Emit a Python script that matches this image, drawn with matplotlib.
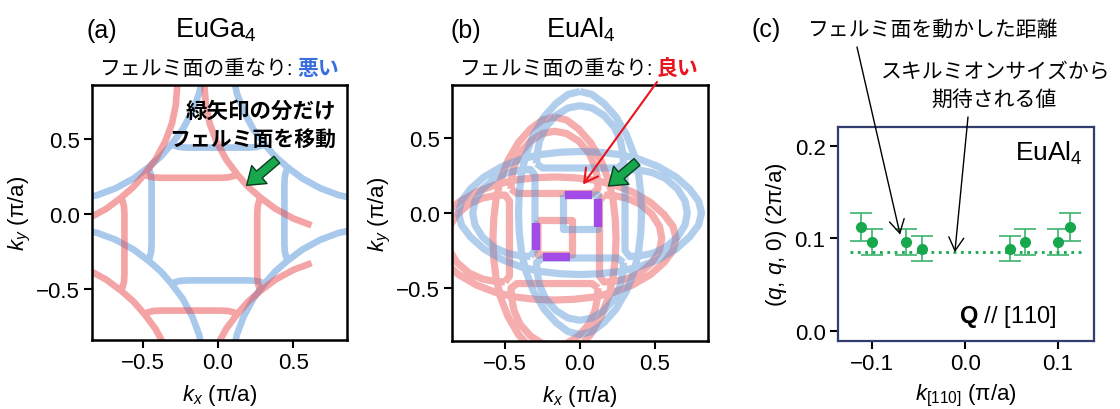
import numpy as np
import matplotlib
matplotlib.use("Agg")
import matplotlib.pyplot as plt

plt.rcParams['font.family'] = ['Liberation Sans', 'Noto Sans CJK JP']
plt.rcParams['mathtext.fontset'] = 'custom'
plt.rcParams['mathtext.rm'] = 'Liberation Sans'
plt.rcParams['mathtext.it'] = 'Liberation Sans:italic'
plt.rcParams['mathtext.bf'] = 'Liberation Sans:bold'

arc_a_x = [-1.05, -0.92, -0.80, -0.68, -0.56, -0.46, -0.38, -0.31, -0.235, -0.17, -0.125, -0.10, -0.09]
arc_a_y = [0.09, 0.10, 0.125, 0.17, 0.235, 0.31, 0.38, 0.46, 0.56, 0.68, 0.80, 0.92, 1.05]
pocket_a_x = [-0.31, -0.285, -0.25, -0.20, 0.20, 0.25, 0.285, 0.31]
pocket_a_y = [0.465, 0.452, 0.443, 0.44, 0.44, 0.443, 0.452, 0.465]
shift_a = (-0.18, -0.20)
red_xmax_a = 0.70

# ---- (b) EuAl4 : lens quarter, inner arch, centre square
lens_b_x = [0.00, 0.08, 0.16, 0.24, 0.31, 0.36, 0.39, 0.405, 0.41]
lens_b_y = [0.81, 0.79, 0.73, 0.64, 0.52, 0.39, 0.26, 0.13, 0.00]
arch_b_x = [-0.29, -0.285, -0.27, -0.23, -0.16, -0.08, 0.0, 0.08, 0.16, 0.23, 0.27, 0.285, 0.29, 0.25, -0.25, -0.29]
arch_b_y = [0.33, 0.40, 0.48, 0.57, 0.65, 0.70, 0.715, 0.70, 0.65, 0.57, 0.48, 0.40, 0.33, 0.30, 0.30, 0.33]
sq_b_x = [-0.11, 0.12, 0.12, -0.11, -0.11]
sq_b_y = [0.12, 0.12, -0.11, -0.11, 0.12]
shift_b = (-0.17, -0.17)
purple_x = [[-0.10, 0.08], [0.12, 0.12], [-0.29, -0.29], [-0.245, -0.065]]
purple_y = [[0.12, 0.12], [0.09, -0.09], [-0.065, -0.245], [-0.29, -0.29]]

# ---- (c) q vs k
k_vals = [-0.112, -0.100, -0.064, -0.046, 0.048, 0.065, 0.100, 0.113]
q_vals = [0.112, 0.096, 0.096, 0.089, 0.089, 0.096, 0.096, 0.112]
q_err = [0.015, 0.014, 0.014, 0.014, 0.014, 0.014, 0.014, 0.015]
q_sky = 0.085
k_line = [-0.124, 0.127]

W, H = 1120, 410
BLUE = '#5395d9'
RED = '#eb4b4b'
GREEN = '#17a84e'


def rot(x, y, k):
    x, y = np.asarray(x, float), np.asarray(y, float)
    for _ in range(k):
        x, y = -y, x
    return x, y


def join(pieces):
    xs, ys = [], []
    for x, y in pieces:
        xs += list(x) + [np.nan]
        ys += list(y) + [np.nan]
    return np.array(xs), np.array(ys)


def style(ax, col='black', lw=1.8):
    for s in ax.spines.values():
        s.set_linewidth(lw)
        s.set_color(col)
    ax.tick_params(direction='out', length=6, width=1.5, labelsize=16, pad=3)


def ftxt(x, y, s, **kw):
    return fig.text(x / W, 1 - y / H, s, **kw)


fig = plt.figure(figsize=(11.2, 4.1), dpi=100)
ax_a = fig.add_axes([92 / W, 1 - 341 / H, 255 / W, 255 / H])
ax_b = fig.add_axes([452 / W, 1 - 342 / H, 256 / W, 256 / H])
ax_c = fig.add_axes([838 / W, 1 - 342 / H, 256 / W, 214 / H])

big_arrow = dict(arrowstyle='simple,head_length=0.6,head_width=0.85,tail_width=0.32',
                 mutation_scale=20, fc=GREEN, ec='#0b3d1e', lw=1.0, shrinkA=0, shrinkB=0)

# ---------- panel (a)
pieces = [rot(arc_a_x, arc_a_y, k) for k in range(4)] + [rot(pocket_a_x, pocket_a_y, k) for k in range(4)]
bx, by = join(pieces)
ax_a.plot(bx, by, color=BLUE, alpha=0.5, lw=4.8, solid_capstyle='butt')
rxa = bx + shift_a[0]
rya = np.where(rxa <= red_xmax_a, by + shift_a[1], np.nan)
ax_a.plot(rxa, rya, color=RED, alpha=0.5, lw=4.8, solid_capstyle='butt')
ax_a.annotate('', xy=(0.19, 0.19), xytext=(0.39, 0.36), arrowprops=big_arrow)
ax_a.set_xlim(-0.835, 0.855)
ax_a.set_ylim(-0.835, 0.855)

# ---------- panel (b)
qx, qy = np.array(lens_b_x), np.array(lens_b_y)
rx = np.concatenate([qx, qx[::-1][1:]])
ry = np.concatenate([qy, -qy[::-1][1:]])
lx = np.concatenate([rx, -rx[::-1][1:]])
ly = np.concatenate([ry, ry[::-1][1:]])
pieces = [(lx, ly), rot(lx, ly, 1)] + [rot(arch_b_x, arch_b_y, k) for k in range(4)] + [(sq_b_x, sq_b_y)]
bx, by = join(pieces)
ax_b.plot(bx + shift_b[0], by + shift_b[1], color=RED, alpha=0.45, lw=5.2,
          solid_capstyle='butt', solid_joinstyle='round')
ax_b.plot(bx, by, color=BLUE, alpha=0.45, lw=5.2, solid_capstyle='butt', solid_joinstyle='round')
for px, py in zip(purple_x, purple_y):
    ax_b.plot(px, py, color='#a24be6', lw=6, solid_capstyle='butt')
ax_b.annotate('', xy=(0.19, 0.18), xytext=(0.38, 0.34), arrowprops=big_arrow)
ax_b.annotate('', xy=(0.02, 0.19), xytext=(657 / W, 1 - 83 / H), textcoords='figure fraction',
              arrowprops=dict(arrowstyle='->,head_length=0.8,head_width=0.45', mutation_scale=12,
                              color='#e8141e', lw=1.5, shrinkA=0, shrinkB=0))
ax_b.set_xlim(-0.853, 0.853)
ax_b.set_ylim(-0.853, 0.853)

for ax in (ax_a, ax_b):
    style(ax)
    ax.set_xticks([-0.5, 0.0, 0.5])
    ax.set_yticks([-0.5, 0.0, 0.5])
    ax.set_xlabel(r'$k_x$ (π/a)', fontsize=16, labelpad=6)
    ax.set_ylabel(r'$k_y$ (π/a)', fontsize=16, labelpad=2)

# ---------- panel (c)
ax_c.errorbar(k_vals, q_vals, yerr=q_err, fmt='o', ms=7, color=GREEN, ecolor='#3cb46e',
              elinewidth=1.2, capsize=8, capthick=1.2)
ax_c.plot(k_line, [q_sky, q_sky], ls=':', color=GREEN, lw=2)
ax_c.set_xlim(-0.137, 0.139)
ax_c.set_ylim(-0.011, 0.2204)
ax_c.set_xticks([-0.1, 0.0, 0.1])
ax_c.set_yticks([0.0, 0.1, 0.2])
style(ax_c, col='#323c6e', lw=1.6)
ax_c.set_xlabel(r'$k_{[110]}$ (π/a)', fontsize=16, labelpad=5)
ax_c.set_ylabel(r'($q$, $q$, 0) (2π/a)', fontsize=16, labelpad=4)
ax_c.text(0.955, 0.88, r'EuAl$_4$', transform=ax_c.transAxes, ha='right', va='center', fontsize=19)
ax_c.text(0.855, 0.115, r'$\mathbf{Q}$ // [110]', transform=ax_c.transAxes, ha='right', va='center', fontsize=17)
arw = dict(arrowstyle='->,head_length=0.8,head_width=0.45', mutation_scale=12, color='black',
           lw=1.0, shrinkA=0, shrinkB=0)
ax_c.annotate('', xy=(-0.070, 0.104), xytext=(857 / W, 1 - 48 / H), textcoords='figure fraction', arrowprops=arw)
ax_c.annotate('', xy=(-0.011, 0.085), xytext=(968 / W, 1 - 118 / H), textcoords='figure fraction', arrowprops=arw)

# ---------- titles
ftxt(86, 38, '(a)', fontsize=18, va='baseline')
ftxt(216, 38, r'EuGa$_4$', fontsize=19.5, va='baseline', ha='center')
ftxt(294, 69, 'フェルミ面の重なり:', fontsize=15, va='center', ha='right')
ftxt(297, 69, '悪い', fontsize=15, va='center', ha='left', color='#3b6fe0', weight='bold')
ftxt(336, 112, '緑矢印の分だけ', fontsize=15.5, va='center', ha='right', weight='bold')
ftxt(336, 140, 'フェルミ面を移動', fontsize=15, va='center', ha='right', weight='bold')

ftxt(450, 38, '(b)', fontsize=18, va='baseline')
ftxt(581, 38, r'EuAl$_4$', fontsize=19.5, va='baseline', ha='center')
ftxt(654, 69, 'フェルミ面の重なり:', fontsize=15, va='center', ha='right')
ftxt(657, 69, '良い', fontsize=15, va='center', ha='left', color='#e8141e', weight='bold')

ftxt(752, 37, '(c)', fontsize=18, va='baseline')
ftxt(808, 30, 'フェルミ面を動かした距離', fontsize=15, va='center', ha='left')
ftxt(996, 72, 'スキルミオンサイズから', fontsize=15, va='center', ha='center')
ftxt(994, 100, '期待される値', fontsize=15, va='center', ha='center')

fig.savefig('out.png', dpi=100)
